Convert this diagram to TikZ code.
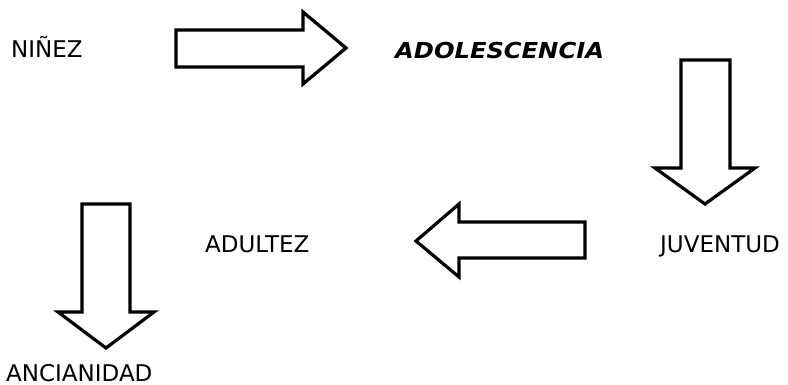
\documentclass[tikz,border=0pt]{standalone}
\usepackage{fontspec}
\setmainfont{DejaVu Sans}
\begin{document}
\begin{tikzpicture}[x=1pt,y=-1pt,
  stage/.style={inner sep=0pt, anchor=base west, font=\fontsize{23}{27}\selectfont},
  blockarrow/.style={draw=black, fill=white, line width=3.2pt, line join=miter}]
\useasboundingbox (0,0) rectangle (788,385);

% life stages
\node[stage] (ninez) at (11,58) {NIÑEZ};
\node[stage, font=\fontsize{22}{26}\selectfont\bfseries\itshape] (adol) at (395,59)
  {\scalebox{1.1}[1]{ADOLESCENCIA}};
\node[stage] (juv) at (660,253) {JUVENTUD};
\node[stage] (adult) at (205,253) {ADULTEZ};
\node[stage] (anc) at (6,381) {ANCIANIDAD};

% block arrows between the stages
\draw[blockarrow] (176,30) -- (303,30) -- (303,12) -- (346,48) -- (303,84)
  -- (303,67) -- (176,67) -- cycle;
\draw[blockarrow] (681,60) -- (730,60) -- (730,168) -- (755,168) -- (705,204)
  -- (655,168) -- (681,168) -- cycle;
\draw[blockarrow] (585,222) -- (459,222) -- (459,204) -- (416,241) -- (459,277)
  -- (459,258) -- (585,258) -- cycle;
\draw[blockarrow] (82,204) -- (130,204) -- (130,312) -- (154,312) -- (106,348)
  -- (58,312) -- (82,312) -- cycle;
\end{tikzpicture}
\end{document}
